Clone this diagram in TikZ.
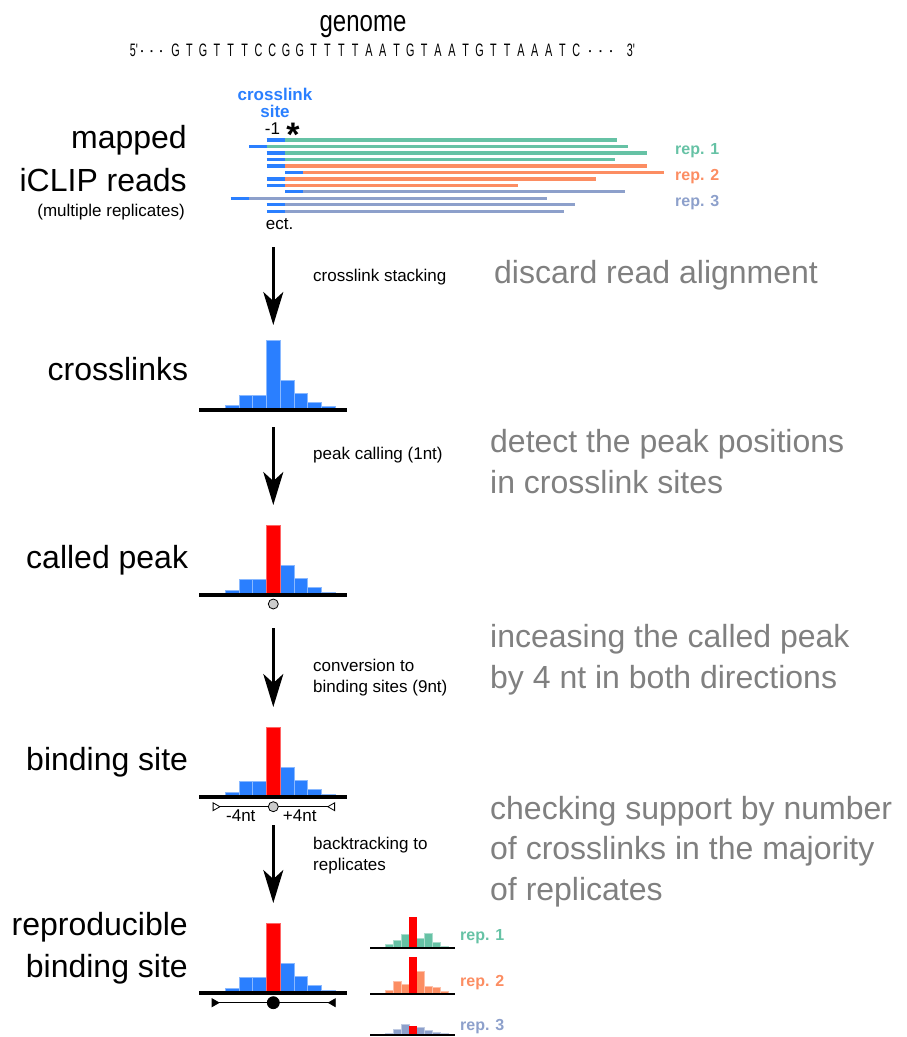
\documentclass[tikz,border=0pt]{standalone}
\usepackage{graphicx}
\usepackage{fontspec}
\setmainfont{Liberation Sans}[Ligatures=TeXOff]
\usetikzlibrary{arrows.meta}

\definecolor{xlblue}{HTML}{2A7FFF}
\definecolor{repone}{HTML}{66C2A5}
\definecolor{reptwo}{HTML}{FC8D62}
\definecolor{repthree}{HTML}{8DA0CB}
\definecolor{notegray}{HTML}{808080}

\newcommand{\fsz}[2]{\fontsize{#1}{#2}\selectfont}
\newcommand{\narrow}[2]{\scalebox{#1}[1]{#2}}
% histogram: #1 left x, #2 axis top, #3 bin width, #4 colour, #5 bar heights
\newcommand{\xlhist}[5]{%
  \foreach \h [count=\i] in {#5} {
    \filldraw[fill=#4, draw=#4!55!white, line width=0.4pt] ({#1+(\i-1)*#3},#2) rectangle ++(#3,-\h);
  }%
}

\begin{document}
\begin{tikzpicture}[x=1pt,y=-1pt,>={Stealth[length=33pt,width=20pt,inset=9pt]},
    every node/.style={inner sep=0pt},
    stagelbl/.style={anchor=base east,font=\fsz{32}{42},align=right},
    note/.style={anchor=base west,font=\fsz{32}{40.5},text=notegray,align=left},
    steplbl/.style={anchor=base west,font=\fsz{17}{21},align=left},
    replbl/.style={anchor=base west,font=\fsz{16}{19}\bfseries},
    seq/.style={anchor=base,font=\fsz{18}{18}},
    stagearrow/.style={->,line width=2.7pt},
    readline/.style={line width=3.3pt},
    axis/.style={line width=4pt},
    peakdot/.style={circle,draw,line width=0.8pt,fill=gray!40,minimum size=10pt}]
    \useasboundingbox (0,0) rectangle (906,1037);

    % genome (multi-line nodes: base = last line)
    \node[anchor=base,font=\fsz{30}{30}] (genome) at (363,31.5) {\narrow{0.8}{genome}};
    \node[seq] (fivep) at (134,56.5) {\narrow{0.6}{5'}};
    \node[seq] (threep) at (631,56.5) {\narrow{0.6}{3'}};
    \foreach \x [count=\i] in {142,151.5,161} \node[seq] (dl\i) at (\x,56.5) {·};
    \foreach \x [count=\i] in {590,600.5,611} \node[seq] (dr\i) at (\x,56.5) {·};
    \foreach \b [count=\i] in {G,T,G,T,T,T,C,C,G,G,T,T,T,T,A,A,T,G,T,A,A,T,G,T,T,A,A,A,T,C}
        \node[seq] (b\i) at ({175.5+13.82*(\i-1)},56.5) {\narrow{0.6}{\b}};

    % mapped reads
    \node[stagelbl] (mapped) at (187,148.3) {mapped};
    \node[stagelbl] (reads) at (187,191) {iCLIP reads};
    \node[anchor=base east,font=\fsz{17}{17}] (multi) at (185,216.7) {(multiple replicates)};
    \node[anchor=base,font=\fsz{17}{17.3}\bfseries,text=xlblue,align=center] (xlsite) at (275,117.3) {crosslink\\site};
    \node[anchor=base,font=\fsz{17}{17}] (minus) at (272.5,134.3) {-1};
    \node[anchor=base,font=\fsz{34}{34}\bfseries] (star) at (293,146) {*};
    \foreach \s/\e/\c [count=\i] in {266.7/616.7/repone, 249/628.3/repone, 266.7/646.7/repone, 266.7/615/repone,
        266.7/646.7/reptwo, 285/664.3/reptwo, 266.7/596/reptwo, 266.7/517.7/reptwo,
        285/625/repthree, 230.7/546.7/repthree, 266.7/575/repthree, 266.7/564.3/repthree} {
        \draw[readline,\c] ({\s+18.3},{140+6.48*(\i-1)}) -- (\e,{140+6.48*(\i-1)});
        \draw[readline,xlblue] (\s,{140+6.48*(\i-1)}) -- ++(18.3,0);
    }
    \node[anchor=base west,font=\fsz{17}{17}] (ect) at (265.7,229) {ect.};
    \node[replbl,text=repone] (rtop1) at (675,154) {rep. 1};
    \node[replbl,text=reptwo] (rtop2) at (675,180) {rep. 2};
    \node[replbl,text=repthree] (rtop3) at (675,206) {rep. 3};

    % crosslinks
    \node[stagelbl] (xls) at (188.3,380.7) {crosslinks};
    \xlhist{225}{408}{13.75}{xlblue}{3,13,13,68,28,15,6,1.5}
    \draw[axis] (199,410) -- (347,410);

    % called peak
    \node[stagelbl] (called) at (188.3,568.3) {called peak};
    \xlhist{225}{593}{13.75}{xlblue}{3,14,14,68,28,15,6,1}
    \filldraw[fill=red,draw=red!60!white,line width=0.4pt] (266.25,593) rectangle ++(13.75,-68);
    \draw[axis] (199,595) -- (347,595);
    \node[peakdot] (peakpt) at (273.3,604) {};

    % binding site
    \node[stagelbl] (bsite) at (188.3,770.7) {binding site};
    \xlhist{225}{795}{13.75}{xlblue}{3,14,14,68,28,15,6,1}
    \filldraw[fill=red,draw=red!60!white,line width=0.4pt] (266.25,795) rectangle ++(13.75,-68);
    \draw[axis] (199,797) -- (347,797);
    \coordinate (bsl) at (212.7,806.7);
    \coordinate (bsr) at (335,806.7);
    \draw[line width=0.8pt,{Triangle[reversed,length=8pt,width=9pt,fill=white]}-{Triangle[reversed,length=8pt,width=9pt,fill=white]}] (bsl) -- (bsr);
    \node[peakdot] (bspt) at (273.3,806.7) {};
    \node[anchor=base,font=\fsz{17}{17}] (lft) at (240.8,821.7) {-4nt};
    \node[anchor=base,font=\fsz{17}{17}] (rgt) at (299.7,821.7) {+4nt};

    % reproducible binding site
    \node[stagelbl] (repro) at (188,977) {reproducible\\binding site};
    \xlhist{225}{991}{13.75}{xlblue}{3,14,14,68,28,15,6,1}
    \filldraw[fill=red,draw=red!60!white,line width=0.4pt] (266.25,991) rectangle ++(13.75,-68);
    \draw[axis] (199,993) -- (347,993);
    \coordinate (rbl) at (211.7,1002.7);
    \coordinate (rbr) at (335.7,1002.7);
    \draw[line width=0.8pt,{Triangle[reversed,length=8pt,width=9pt]}-{Triangle[reversed,length=8pt,width=9pt]}] (rbl) -- (rbr);
    \node[peakdot,fill=black,minimum size=12pt] (rpt) at (273.3,1002.7) {};

    % replicates
    \xlhist{385}{947.3}{7.9}{repone}{3,7,13,30,9,14,5.5,1.3}
    \fill[red] (408.7,947.3) rectangle ++(7.9,-30);
    \draw[line width=2pt] (370,948.3) -- (455,948.3);
    \xlhist{385}{992.7}{7.9}{reptwo}{2.7,12,8.4,36,21.7,7,5.4,1.7}
    \fill[red] (408.7,992.7) rectangle ++(7.9,-36);
    \draw[line width=2pt] (370,993.7) -- (455,993.7);
    \xlhist{385}{1034.3}{7.9}{repthree}{1.6,5,10,8.6,7.6,4.3,2.6,1}
    \fill[red] (408.7,1034.3) rectangle ++(7.9,-8.6);
    \draw[line width=2pt] (370,1035.3) -- (455,1035.3);
    \node[replbl,text=repone] (rbot1) at (460,940) {rep. 1};
    \node[replbl,text=reptwo] (rbot2) at (460,986.7) {rep. 2};
    \node[replbl,text=repthree] (rbot3) at (460,1030) {rep. 3};

    % steps between stages
    \coordinate (s1a) at (273.3,247);  \coordinate (s1b) at (273.3,325);
    \coordinate (s2a) at (273.3,427);  \coordinate (s2b) at (273.3,505);
    \coordinate (s3a) at (273.3,628);  \coordinate (s3b) at (273.3,707);
    \coordinate (s4a) at (273.3,825);  \coordinate (s4b) at (273.3,903);
    \draw[stagearrow] (s1a) -- (s1b);
    \draw[stagearrow] (s2a) -- (s2b);
    \draw[stagearrow] (s3a) -- (s3b);
    \draw[stagearrow] (s4a) -- (s4b);
    \node[steplbl] (st1) at (313,281) {crosslink stacking};
    \node[steplbl] (st2) at (313,459) {peak calling (1nt)};
    \node[steplbl] (st3) at (313,692) {conversion to\\binding sites (9nt)};
    \node[steplbl] (st4) at (313,870) {backtracking to\\replicates};

    % notes on the right
    \node[note] (n1) at (494,283) {discard read alignment};
    \node[note] (n2) at (490,493) {detect the peak positions\\in crosslink sites};
    \node[note] (n3) at (490,688) {inceasing the called peak\\by 4 nt in both directions};
    \node[note] (n4) at (490,900) {checking support by number\\of crosslinks in the majority\\of replicates};
\end{tikzpicture}
\end{document}
